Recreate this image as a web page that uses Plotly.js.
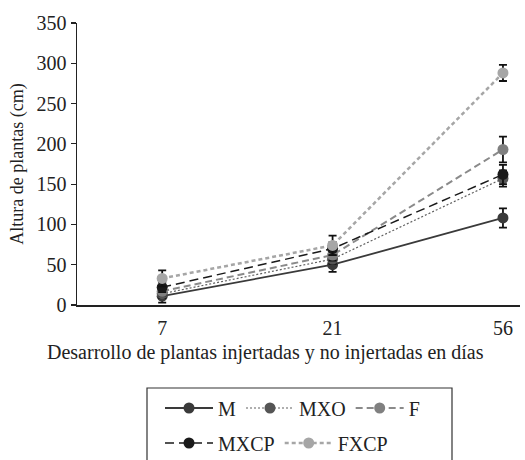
<!DOCTYPE html>
<html>
<head>
<meta charset="utf-8">
<script src="https://cdn.plot.ly/plotly-3.0.1.min.js"></script>
<style>html,body{margin:0;padding:0;background:#fff;}#chart{width:525px;height:460px;}</style>
</head>
<body>
<div id="chart"></div>
<script>
var days = ['7', '21', '56'];
var M = [11, 50, 108];
var M_err = [8, 9, 12];
var MXO = [14, 57, 157];
var MXO_err = [5, 6, 10];
var F = [17, 62, 193];
var F_err = [5, 7, 16];
var MXCP = [22, 70, 162];
var MXCP_err = [6, 8, 12];
var FXCP = [33, 74, 288];
var FXCP_err = [10, 12, 10];

function tr(name, y, err, lineColor, markerColor, width, dash, legend) {
  return {
    type: 'scatter', mode: 'lines+markers', name: name, x: days, y: y,
    line: {color: lineColor, width: width, dash: dash},
    marker: {color: markerColor, size: 11},
    error_y: {type: 'data', array: err, visible: true, color: '#111', thickness: 1.8, width: 4},
    legend: legend
  };
}

var data = [
  tr('M', M, M_err, '#3a3a3a', '#3a3a3a', 1.8, 'solid', 'legend'),
  tr('MXO', MXO, MXO_err, '#606060', '#555555', 1.2, '2px,2px', 'legend'),
  tr('F', F, F_err, '#8a8a8a', '#808080', 2, '7px,4px', 'legend'),
  tr('MXCP', MXCP, MXCP_err, '#1a1a1a', '#1a1a1a', 1.5, '9px,5px', 'legend2'),
  tr('FXCP', FXCP, FXCP_err, '#a6a6a6', '#a6a6a6', 2.5, '4px,3px', 'legend2')
];

var fnt = {family: 'Liberation Serif', size: 20, color: '#222'};
var legendCommon = {
  orientation: 'h', xanchor: 'left', yanchor: 'middle',
  xref: 'container', yref: 'container',
  font: fnt, bgcolor: 'rgba(0,0,0,0)', borderwidth: 0, itemwidth: 48,
  itemclick: false, itemdoubleclick: false
};

var layout = {
  width: 525, height: 460,
  margin: {l: 77, r: 5, t: 23, b: 155},
  paper_bgcolor: '#fff', plot_bgcolor: '#fff',
  font: fnt,
  showlegend: true,
  xaxis: {
    type: 'category', range: [-0.5, 2.1],
    showline: true, linecolor: '#222', linewidth: 1.5,
    showgrid: false, zeroline: false, ticks: '',
    ticklabelstandoff: 4,
    tickfont: fnt
  },
  yaxis: {
    range: [0, 350], dtick: 50,
    showline: true, linecolor: '#222', linewidth: 1.5,
    showgrid: false, zeroline: false,
    ticks: 'outside', ticklen: 5, tickwidth: 1.2, tickcolor: '#222',
    tickfont: fnt,
    title: {text: 'Altura de plantas (cm)', font: {family: 'Liberation Serif', size: 18, color: '#222'}, standoff: 8}
  },
  annotations: [{
    text: 'Desarrollo de plantas injertadas y no injertadas en días',
    xref: 'paper', yref: 'paper', x: (45 - 77) / 443, y: (305 - 352) / 282,
    xanchor: 'left', yanchor: 'middle', showarrow: false,
    font: {family: 'Liberation Serif', size: 20, color: '#222'}
  }],
  shapes: [{
    type: 'rect', xref: 'paper', yref: 'paper',
    x0: (147 - 77) / 443, x1: (452 - 77) / 443,
    y0: (305 - 388) / 282, y1: (305 - 475) / 282,
    line: {color: '#333', width: 1.2}, fillcolor: 'rgba(0,0,0,0)'
  }],
  legend: Object.assign({}, legendCommon, {x: 160 / 525, y: 1 - 408 / 460}),
  legend2: Object.assign({}, legendCommon, {x: 160 / 525, y: 1 - 443 / 460})
};

Plotly.newPlot('chart', data, layout, {displayModeBar: false, staticPlot: true});
</script>
</body>
</html>
